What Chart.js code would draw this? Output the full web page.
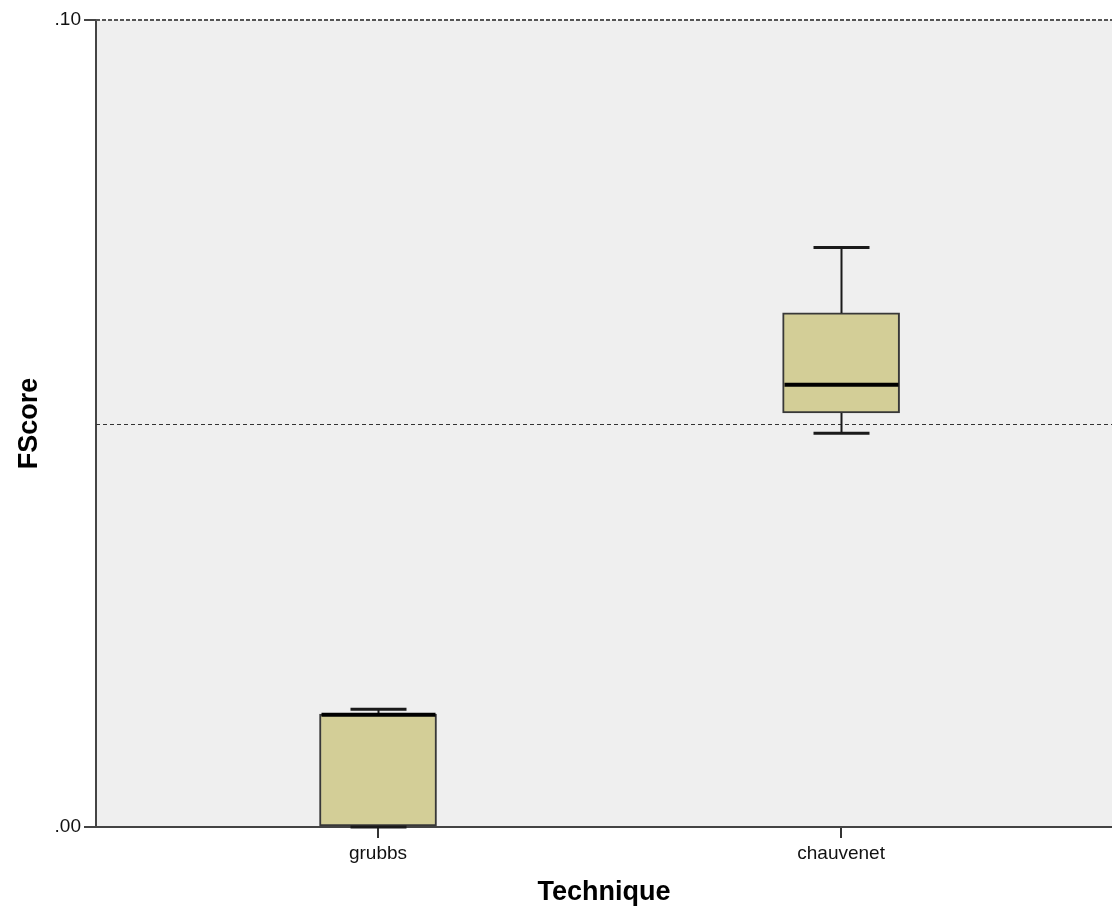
<!DOCTYPE html>
<html>
<head>
<meta charset="utf-8">
<script src="https://cdn.jsdelivr.net/npm/chart.js@4"></script>
<style>
  html, body { margin: 0; padding: 0; background: #fff; }
  #wrap { width: 1112px; height: 909px; }
</style>
</head>
<body>
<div id="wrap"><canvas id="chart"></canvas></div>
<script>
const techniques = ["grubbs", "chauvenet"];
const minValues = [0.0000, 0.0488];
const q1Values = [0.0000, 0.0513];
const medianValues = [0.0139, 0.0548];
const q3Values = [0.0140, 0.0637];
const maxValues = [0.0146, 0.0718];
const yTickValues = [0.00, 0.10];
const referenceValue = 0.05;

const FONT = "'Liberation Sans', Arial, sans-serif";

const boxData = techniques.map((t, i) => ({ x: i + 1, y: [q1Values[i], q3Values[i]] }));

const boxplotPlugin = {
  id: "boxplot",
  beforeDraw(chart) {
    const { ctx, chartArea: a } = chart;
    ctx.save();
    ctx.fillStyle = "#efefef";
    ctx.fillRect(a.left, a.top, a.right - a.left, a.bottom - a.top);
    ctx.restore();
  },
  beforeDatasetsDraw(chart) {
    const { ctx, chartArea: a, scales: { y } } = chart;
    ctx.save();
    // dashed reference line
    ctx.setLineDash([4, 3]);
    ctx.strokeStyle = "#333";
    ctx.lineWidth = 1;
    const ry = Math.round(y.getPixelForValue(referenceValue)) + 0.5;
    ctx.beginPath();
    ctx.moveTo(a.left, ry);
    ctx.lineTo(a.right, ry);
    ctx.stroke();
    // top frame line
    ctx.setLineDash([4, 2]);
    ctx.strokeStyle = "#555";
    ctx.lineWidth = 2;
    const ty = y.getPixelForValue(yTickValues[yTickValues.length - 1]);
    ctx.beginPath();
    ctx.moveTo(a.left, ty);
    ctx.lineTo(a.right, ty);
    ctx.stroke();
    ctx.restore();
  },
  afterDatasetsDraw(chart) {
    const { ctx, scales: { x, y } } = chart;
    const capHalf = 28;
    const boxHalf = 57;
    ctx.save();
    ctx.strokeStyle = "#1a1a1a";
    techniques.forEach((t, i) => {
      const cx = Math.round(x.getPixelForValue(i + 1)) + 0.5;
      const yMin = y.getPixelForValue(minValues[i]);
      const yQ1 = y.getPixelForValue(q1Values[i]);
      const yMed = y.getPixelForValue(medianValues[i]);
      const yQ3 = y.getPixelForValue(q3Values[i]);
      const yMax = y.getPixelForValue(maxValues[i]);

      // whiskers
      ctx.lineWidth = 2;
      ctx.beginPath();
      ctx.moveTo(cx, yQ3);
      ctx.lineTo(cx, yMax);
      ctx.moveTo(cx, yQ1);
      ctx.lineTo(cx, yMin);
      ctx.stroke();

      // caps
      ctx.lineWidth = 3;
      ctx.beginPath();
      ctx.moveTo(cx - capHalf, yMax);
      ctx.lineTo(cx + capHalf, yMax);
      ctx.moveTo(cx - capHalf, yMin);
      ctx.lineTo(cx + capHalf, yMin);
      ctx.stroke();

      // median
      ctx.strokeStyle = "#000";
      ctx.lineWidth = 4;
      ctx.beginPath();
      ctx.moveTo(cx - boxHalf, yMed);
      ctx.lineTo(cx + boxHalf, yMed);
      ctx.stroke();
      ctx.strokeStyle = "#1a1a1a";
    });
    ctx.restore();
  }
};

new Chart(document.getElementById("chart"), {
  type: "bar",
  data: {
    datasets: [{
      label: "FScore",
      data: boxData,
      backgroundColor: "#d3ce97",
      borderColor: "#383838",
      borderWidth: 2,
      borderSkipped: false,
      barThickness: 117
    }]
  },
  options: {
    responsive: true,
    maintainAspectRatio: false,
    animation: false,
    layout: { padding: { top: 20, left: 0, right: 0, bottom: 0 } },
    plugins: {
      legend: { display: false },
      tooltip: { enabled: false }
    },
    scales: {
      x: {
        type: "linear",
        offset: false,
        min: 0.391,
        max: 2.585,
        afterBuildTicks: s => { s.ticks = techniques.map((t, i) => ({ value: i + 1 })); },
        afterFit: s => { s.height = 82; },
        ticks: {
          callback: v => techniques[Math.round(v) - 1],
          autoSkip: false,
          maxRotation: 0,
          padding: 4,
          color: "#111",
          font: { family: FONT, size: 19 }
        },
        grid: { offset: false, drawOnChartArea: false, tickLength: 11, color: "#333", lineWidth: 2 },
        border: { color: "#444", width: 2 },
        title: {
          display: true,
          text: "Technique",
          color: "#000",
          font: { family: FONT, size: 27, weight: "bold" },
          padding: { top: 0, bottom: 0 }
        }
      },
      y: {
        type: "linear",
        min: 0,
        max: 0.1,
        afterBuildTicks: s => { s.ticks = yTickValues.map(v => ({ value: v })); },
        afterFit: s => { s.width = 96; },
        ticks: {
          callback: v => "." + String(Math.round(v * 100)).padStart(2, "0"),
          padding: 3,
          color: "#111",
          font: { family: FONT, size: 19 }
        },
        grid: { drawOnChartArea: false, tickLength: 12, color: "#444", lineWidth: 2 },
        border: { color: "#444", width: 2 },
        title: {
          display: true,
          text: "FScore",
          color: "#000",
          font: { family: FONT, size: 27, weight: "bold" },
          padding: { top: 13, bottom: 0 }
        }
      }
    }
  },
  plugins: [boxplotPlugin]
});
</script>
</body>
</html>
